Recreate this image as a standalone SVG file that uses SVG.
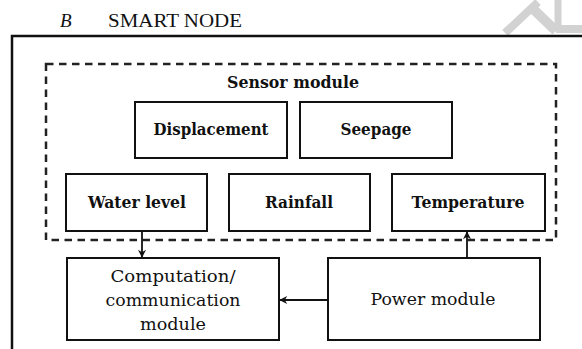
<svg xmlns="http://www.w3.org/2000/svg" width="582" height="349" viewBox="0 0 582 349">
  <style>
    .box { fill: #fff; stroke: #111; stroke-width: 2; }
    .lbl { font-family: 'DejaVu Serif', serif; font-size: 17px; fill: #111; text-anchor: middle; }
    .bold { font-weight: bold; }
    .wire { fill: none; stroke: #111; stroke-width: 1.8; }
    .title { font-family: 'Liberation Serif', serif; font-size: 19px; fill: #111; }
  </style>
  <defs>
    <marker id="arrow" viewBox="0 0 10 10" refX="9" refY="5" markerWidth="9" markerHeight="8" orient="auto" markerUnits="userSpaceOnUse">
      <path d="M0,0 L10,5 L0,10 L3,5 Z" fill="#111"/>
    </marker>
  </defs>
  <rect width="582" height="349" fill="#fff"/>

  <!-- faint logo in the top-right corner -->
  <g id="logo" fill="none" stroke="#d2d2d2" stroke-linecap="butt">
    <path d="M505,33 L538,2" stroke-width="8"/>
    <path d="M530,6 L556,31" stroke-width="10"/>
    <path d="M558,0 L558,28" stroke-width="7"/>
    <path d="M556,29 L582,29" stroke-width="8"/>
  </g>

  <!-- section heading -->
  <g id="heading">
    <text class="title" x="60" y="27" font-style="italic">B</text>
    <text class="title" x="108" y="27" textLength="134" lengthAdjust="spacingAndGlyphs">SMART NODE</text>
  </g>

  <!-- outer frame -->
  <path id="frame" d="M12,349 L12,36 L582,36" fill="none" stroke="#111" stroke-width="2.5"/>

  <!-- sensor module group -->
  <g id="sensor-module">
    <rect x="46" y="64" width="510" height="176" fill="none" stroke="#222" stroke-width="2.5" stroke-dasharray="7.5 5.5"/>
    <text class="lbl bold" x="293" y="88" textLength="132" lengthAdjust="spacingAndGlyphs">Sensor module</text>
  </g>

  <g id="displacement">
    <rect class="box" x="135" y="102" width="152" height="56"/>
    <text class="lbl bold" x="211" y="135" textLength="115" lengthAdjust="spacingAndGlyphs">Displacement</text>
  </g>
  <g id="seepage">
    <rect class="box" x="300" y="102" width="152" height="56"/>
    <text class="lbl bold" x="376" y="135" textLength="71" lengthAdjust="spacingAndGlyphs">Seepage</text>
  </g>
  <g id="water-level">
    <rect class="box" x="66" y="174" width="141" height="57"/>
    <text class="lbl bold" x="137" y="208" textLength="98" lengthAdjust="spacingAndGlyphs">Water level</text>
  </g>
  <g id="rainfall">
    <rect class="box" x="229" y="174" width="141" height="57"/>
    <text class="lbl bold" x="299" y="208" textLength="68" lengthAdjust="spacingAndGlyphs">Rainfall</text>
  </g>
  <g id="temperature">
    <rect class="box" x="392" y="174" width="153" height="57"/>
    <text class="lbl bold" x="468" y="208" textLength="113" lengthAdjust="spacingAndGlyphs">Temperature</text>
  </g>

  <g id="computation">
    <rect class="box" x="67" y="258" width="212" height="82"/>
    <text class="lbl" x="173" y="282" textLength="125" lengthAdjust="spacingAndGlyphs">Computation/</text>
    <text class="lbl" x="173" y="306" textLength="135" lengthAdjust="spacingAndGlyphs">communication</text>
    <text class="lbl" x="173" y="330" textLength="66" lengthAdjust="spacingAndGlyphs">module</text>
  </g>
  <g id="power">
    <rect class="box" x="328" y="258" width="212" height="82"/>
    <text class="lbl" x="433" y="305" textLength="125" lengthAdjust="spacingAndGlyphs">Power module</text>
  </g>

  <!-- connectors -->
  <g id="connectors">
    <path class="wire" d="M142,231 L142,257" marker-end="url(#arrow)"/>
    <path class="wire" d="M467,258 L467,232" marker-end="url(#arrow)"/>
    <path class="wire" d="M328,300 L280,300" stroke-width="2.4" marker-end="url(#arrow)"/>
  </g>
</svg>
